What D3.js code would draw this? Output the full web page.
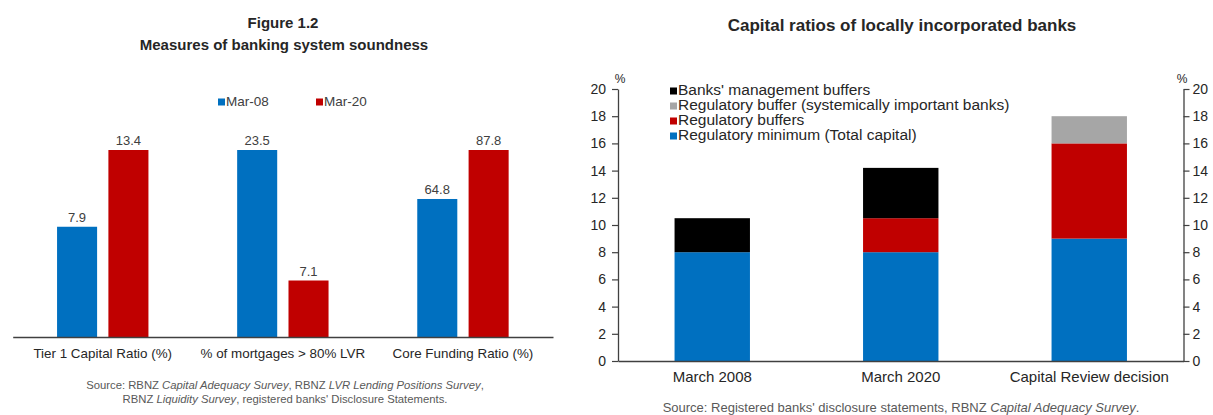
<!DOCTYPE html>
<html>
<head>
<meta charset="utf-8">
<script src="https://cdn.jsdelivr.net/npm/d3@7"></script>
<style>
  body { margin: 0; background: #fff; }
  svg { display: block; font-family: "Liberation Sans", Arial, sans-serif; }
</style>
</head>
<body>
<svg id="chart" width="1213" height="415"></svg>
<script>
// ---- Figure 1.2: measures of banking system soundness ----
const measures = ["Tier 1 Capital Ratio (%)", "% of mortgages > 80% LVR", "Core Funding Ratio (%)"];
const periods = ["Mar-08", "Mar-20"];
const mar08 = [7.9, 23.5, 64.8];
const mar20 = [13.4, 7.1, 87.8];

// ---- Capital ratios of locally incorporated banks ----
const capCategories = ["March 2008", "March 2020", "Capital Review decision"];
const regMinimum = [8, 8, 9];
const regBuffers = [0, 2.5, 7];
const sysBuffer = [0, 0, 2];
const mgmtBuffers = [2.5, 3.7, 0];
const capTicks = [0, 2, 4, 6, 8, 10, 12, 14, 16, 18, 20];

const BLUE = "#0070c0", RED = "#c00000", GREY = "#a6a6a6", BLACK = "#000000";
const TEXT = "#262626";
const FONT = "\"Liberation Sans\", Arial, sans-serif";

const svg = d3.select("#chart");

// =========================================================
// Left panel
// =========================================================
const left = svg.append("g");

left.append("text").attr("x", 283).attr("y", 24).attr("text-anchor", "middle")
  .attr("dominant-baseline", "middle").attr("font-weight", "bold").attr("font-size", 15)
  .attr("fill", TEXT).text("Figure 1.2");
left.append("text").attr("x", 284).attr("y", 46).attr("text-anchor", "middle")
  .attr("dominant-baseline", "middle").attr("font-weight", "bold").attr("font-size", 15)
  .attr("fill", TEXT).text("Measures of banking system soundness");

const x0 = d3.scaleBand().domain(measures).range([12.7, 553]).padding(0);
const x1 = d3.scaleBand().domain(periods).range([0, x0.bandwidth()])
  .paddingInner(0.22).paddingOuter(0.864);
const periodColor = d3.scaleOrdinal().domain(periods).range([BLUE, RED]);

const baseY = 337, topY = 150;
// each measure is drawn against its own scale, topped out by its larger value
const groupScales = measures.map((m, i) =>
  d3.scaleLinear().domain([0, Math.max(mar08[i], mar20[i])]).range([baseY, topY]));

const leftRows = [];
measures.forEach((m, i) => {
  leftRows.push({ measure: m, period: periods[0], value: mar08[i], y: groupScales[i] });
  leftRows.push({ measure: m, period: periods[1], value: mar20[i], y: groupScales[i] });
});

left.append("g").selectAll("rect").data(leftRows).join("rect")
  .attr("x", d => x0(d.measure) + x1(d.period))
  .attr("width", x1.bandwidth())
  .attr("y", d => d.y(d.value))
  .attr("height", d => baseY - d.y(d.value))
  .attr("fill", d => periodColor(d.period));

left.append("g").selectAll("text").data(leftRows).join("text")
  .attr("x", d => x0(d.measure) + x1(d.period) + x1.bandwidth() / 2)
  .attr("y", d => d.y(d.value) - 5)
  .attr("text-anchor", "middle").attr("font-size", 13).attr("fill", "#404040")
  .text(d => d3.format(".1f")(d.value));

const leftAxis = left.append("g").attr("transform", `translate(0,${baseY})`)
  .call(d3.axisBottom(x0).tickSize(0).tickSizeOuter(0).tickPadding(11));
leftAxis.select(".domain").attr("stroke", "#404040").attr("stroke-width", 1.5);
leftAxis.selectAll("text").attr("font-size", 13.4).attr("fill", TEXT).attr("font-family", FONT);

// legend
const leftLegend = left.append("g").selectAll("g").data(periods).join("g")
  .attr("transform", (d, i) => `translate(${[218, 316][i]},102)`);
leftLegend.append("rect").attr("x", 0).attr("y", -3.5).attr("width", 7).attr("height", 7)
  .attr("fill", d => periodColor(d));
leftLegend.append("text").attr("x", 8).attr("y", 0).attr("dominant-baseline", "middle")
  .attr("font-size", 13.5).attr("fill", "#404040").text(d => d);

// source
const leftSrc = left.append("text").attr("text-anchor", "middle").attr("font-size", 11.3)
  .attr("fill", "#595959");
const l1 = leftSrc.append("tspan").attr("x", 285).attr("y", 389);
l1.append("tspan").text("Source: RBNZ ");
l1.append("tspan").attr("font-style", "italic").text("Capital Adequacy Survey");
l1.append("tspan").text(", RBNZ ");
l1.append("tspan").attr("font-style", "italic").text("LVR Lending Positions Survey");
l1.append("tspan").text(",");
const l2 = leftSrc.append("tspan").attr("x", 285).attr("y", 403);
l2.append("tspan").text("RBNZ ");
l2.append("tspan").attr("font-style", "italic").text("Liquidity Survey");
l2.append("tspan").text(", registered banks' Disclosure Statements.");

// =========================================================
// Right panel
// =========================================================
const right = svg.append("g");

right.append("text").attr("x", 902).attr("y", 27).attr("text-anchor", "middle")
  .attr("dominant-baseline", "middle").attr("font-weight", "bold").attr("font-size", 17)
  .attr("fill", TEXT).text("Capital ratios of locally incorporated banks");

const xc = d3.scaleBand().domain(capCategories).range([618, 1183.5])
  .paddingInner(0.6).paddingOuter(0.3);
const yc = d3.scaleLinear().domain([0, 20]).range([361, 89]);

const layerKeys = ["min", "reg", "sys", "mgmt"];
const layerNames = {
  mgmt: "Banks' management buffers",
  sys: "Regulatory buffer (systemically important banks)",
  reg: "Regulatory buffers",
  min: "Regulatory minimum (Total capital)"
};
const layerColor = d3.scaleOrdinal().domain(layerKeys).range([BLUE, RED, GREY, BLACK]);

const capTable = capCategories.map((c, i) => ({
  category: c, min: regMinimum[i], reg: regBuffers[i], sys: sysBuffer[i], mgmt: mgmtBuffers[i]
}));
const stacked = d3.stack().keys(layerKeys)(capTable);

right.append("g").selectAll("g").data(stacked).join("g")
  .attr("fill", d => layerColor(d.key))
  .selectAll("rect").data(d => d.filter(s => s[1] > s[0])).join("rect")
  .attr("x", d => xc(d.data.category))
  .attr("width", xc.bandwidth())
  .attr("y", d => yc(d[1]))
  .attr("height", d => yc(d[0]) - yc(d[1]));

function styleAxis(g) {
  g.select(".domain").attr("stroke", "#404040").attr("stroke-width", 1.3);
  g.selectAll(".tick line").attr("stroke", "#404040").attr("stroke-width", 1.2);
  g.selectAll("text").attr("font-size", 14).attr("fill", TEXT).attr("font-family", FONT);
}

right.append("g").attr("transform", "translate(618,0)")
  .call(d3.axisLeft(yc).tickValues(capTicks).tickSize(6).tickSizeOuter(0).tickPadding(6))
  .call(styleAxis);
right.append("g").attr("transform", "translate(1183.5,0)")
  .call(d3.axisRight(yc).tickValues(capTicks).tickSize(6).tickSizeOuter(0).tickPadding(3))
  .call(styleAxis);
const bottom = right.append("g").attr("transform", "translate(0,361)")
  .call(d3.axisBottom(xc).tickSize(0).tickSizeOuter(0).tickPadding(10))
  .call(styleAxis);
bottom.selectAll("text").attr("font-size", 15);

right.append("text").attr("x", 620).attr("y", 80).attr("text-anchor", "middle")
  .attr("dominant-baseline", "middle").attr("font-size", 12).attr("fill", TEXT).text("%");
right.append("text").attr("x", 1182).attr("y", 80).attr("text-anchor", "middle")
  .attr("dominant-baseline", "middle").attr("font-size", 12).attr("fill", TEXT).text("%");

// legend, top entry first
const legendOrder = ["mgmt", "sys", "reg", "min"];
const rightLegend = right.append("g").selectAll("g").data(legendOrder).join("g")
  .attr("transform", (d, i) => `translate(670,${91 + i * 15})`);
rightLegend.append("rect").attr("x", 0).attr("y", -3.5).attr("width", 7).attr("height", 7)
  .attr("fill", d => layerColor(d));
rightLegend.append("text").attr("x", 8).attr("y", 0).attr("dominant-baseline", "middle")
  .attr("font-size", 15.5).attr("fill", TEXT).text(d => layerNames[d]);

const rSrc = right.append("text").attr("x", 901).attr("y", 412).attr("text-anchor", "middle")
  .attr("font-size", 13).attr("fill", "#595959");
rSrc.append("tspan").text("Source: Registered banks' disclosure statements, RBNZ ");
rSrc.append("tspan").attr("font-style", "italic").text("Capital Adequacy Survey");
rSrc.append("tspan").text(".");
</script>
</body>
</html>
